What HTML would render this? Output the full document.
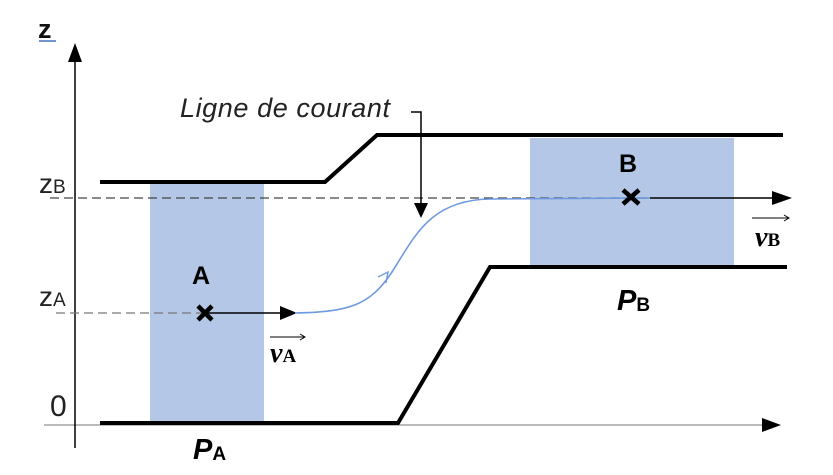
<!DOCTYPE html>
<html><head><meta charset="utf-8"><style>
html,body{margin:0;padding:0;background:#fff;}
svg{display:block;}
.s{font-family:"Liberation Sans",sans-serif;}
.r{font-family:"Liberation Serif",serif;}
</style></head><body>
<svg width="833" height="475" viewBox="0 0 833 475">
<rect x="150" y="184" width="114" height="239" fill="#b4c7e7"/>
<rect x="530" y="138" width="204" height="127" fill="#b4c7e7"/>
<line x1="44" y1="425" x2="768" y2="425" stroke="#bbb" stroke-width="2"/>
<polygon points="762,418 781,425 762,432" fill="#000"/>
<line x1="75" y1="58" x2="75" y2="448" stroke="#000" stroke-width="1.5"/>
<polygon points="68,62 75,43 82,62" fill="#000"/>
<text class="s" x="38" y="38" font-size="27" font-weight="bold" fill="#111">z</text>
<line x1="39" y1="41" x2="56" y2="41" stroke="#4472c4" stroke-width="1.5"/>
<polyline points="100,182 325,182 377,135 783,135" fill="none" stroke="#000" stroke-width="4"/>
<polyline points="100,423 398,423 490,267 787,267" fill="none" stroke="#000" stroke-width="4"/>
<line x1="50" y1="198" x2="650" y2="198" stroke="#444" stroke-width="1.3" stroke-dasharray="9,5"/>
<line x1="650" y1="198" x2="775" y2="198" stroke="#000" stroke-width="1.5"/>
<polygon points="772,191 792,198 772,205" fill="#000"/>
<line x1="56" y1="313" x2="205" y2="313" stroke="#777" stroke-width="1.3" stroke-dasharray="9,5"/>
<line x1="205" y1="313" x2="282" y2="313" stroke="#000" stroke-width="1.5"/>
<polygon points="280,306 297,313 280,320" fill="#000"/>
<path d="M295,313 C350,312 370,305 392,272 C415,236 430,200 490,199 L650,198" fill="none" stroke="#6f9ae0" stroke-width="1.6"/>
<polyline points="378,277 388,272 386,283" fill="none" stroke="#6f9ae0" stroke-width="1.4"/>
<polyline points="411,112 421,112 421,205" fill="none" stroke="#000" stroke-width="1.5"/>
<polygon points="414,203 428,203 421,218" fill="#000"/>
<text class="s" x="180" y="117" font-size="27" font-style="italic" fill="#222" textLength="210">Ligne de courant</text>
<g stroke="#000" stroke-width="4.5">
<line x1="198" y1="306" x2="212" y2="320"/><line x1="212" y1="306" x2="198" y2="320"/>
<line x1="623" y1="190" x2="639" y2="204"/><line x1="639" y1="190" x2="623" y2="204"/>
</g>
<text class="s" x="192" y="284" font-size="25" font-weight="bold">A</text>
<text class="s" x="619" y="172" font-size="25" font-weight="bold">B</text>
<text class="s" x="39" y="193" font-size="28" fill="#222">z<tspan font-size="19">B</tspan></text>
<text class="s" x="39" y="306" font-size="28" fill="#222">z<tspan font-size="19">A</tspan></text>
<text class="s" x="50" y="416" font-size="30" fill="#222">0</text>
<text class="s" x="193" y="459" font-size="29" font-weight="bold" font-style="italic">P<tspan font-size="19" font-style="normal" dy="1">A</tspan></text>
<text class="s" x="617" y="310" font-size="29" font-weight="bold" font-style="italic">P<tspan font-size="19" font-style="normal" dy="1">B</tspan></text>
<text class="r" x="270" y="362" font-size="28" font-weight="bold" font-style="italic">v<tspan font-size="19" font-style="normal">A</tspan></text>
<line x1="270" y1="337" x2="305" y2="337" stroke="#000" stroke-width="1"/>
<polyline points="300,334 305,337 300,340" fill="none" stroke="#000" stroke-width="1"/>
<text class="r" x="755" y="246" font-size="28" font-weight="bold" font-style="italic">v<tspan font-size="19" font-style="normal">B</tspan></text>
<line x1="752" y1="218" x2="789" y2="218" stroke="#000" stroke-width="1"/>
<polyline points="784,215 789,218 784,221" fill="none" stroke="#000" stroke-width="1"/>
</svg>
</body></html>
